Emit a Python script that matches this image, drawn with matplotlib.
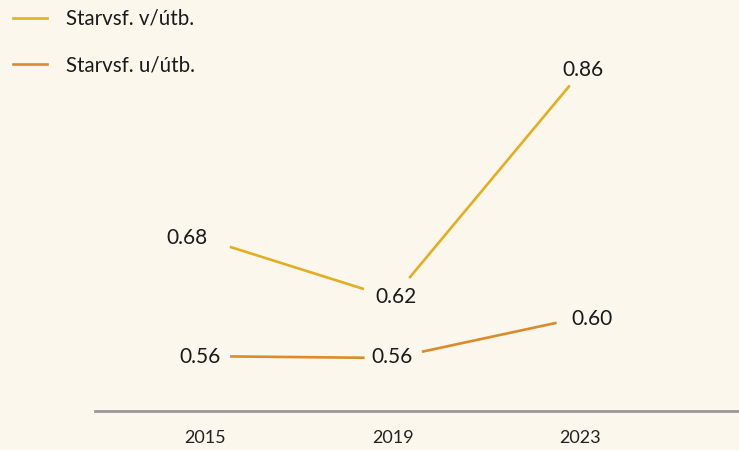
import numpy as np
import matplotlib
matplotlib.use("Agg")
import matplotlib.pyplot as plt
from matplotlib.lines import Line2D

# ---- data ----
years = [2015, 2019, 2023]
series_names = ["Starvsf. v/útb.", "Starvsf. u/útb."]
values_v = [0.684, 0.621, 0.861]
values_u = [0.559, 0.557, 0.600]
tick_labels = ["2015", "2019", "2023"]

# ---- style ----
BG = "#FCF7EC"
colors = ["#E4AE22", "#DD8A2B"]
font = "Lato"
# pixel gaps at segment ends (start, end) per segment
gaps = [[(26, 30), (26, 16)], [(25, 28), (30, 24)]]
# label offsets in pixels
label_offsets = [[(-18, 1), (3, 1), (3, 3)], [(-5, -1), (-1, 1), (12, -1)]]

W, H = 739, 450
fig = plt.figure(figsize=(W / 100, H / 100), dpi=100, facecolor=BG)
ax = fig.add_axes([95 / W, (H - 411) / H, 1 - 95 / W, 411 / H])
ax.set_facecolor(BG)
ax.set_xlim(2012.653, 2026.39)
ax.set_ylim(0.5005, 0.939)

for s in ["top", "right", "left"]:
    ax.spines[s].set_visible(False)
ax.spines["bottom"].set_color("#999999")
ax.spines["bottom"].set_linewidth(2.0)
ax.set_yticks([])
ax.set_xticks(years)
ax.set_xticklabels(tick_labels, fontfamily=font, fontsize=13, color="#222222")
ax.tick_params(axis="x", length=0, pad=14)

inv = ax.transData.inverted()
for k, vals in enumerate([values_v, values_u]):
    pts = ax.transData.transform(np.column_stack([years, vals]))
    for i in range(len(pts) - 1):
        p0, p1 = pts[i], pts[i + 1]
        d = p1 - p0
        u = d / np.hypot(*d)
        g0, g1 = gaps[k][i]
        a = inv.transform(p0 + u * g0)
        b = inv.transform(p1 - u * g1)
        ax.plot([a[0], b[0]], [a[1], b[1]], color=colors[k], lw=1.9,
                solid_capstyle="butt")
    for i, (x, y) in enumerate(zip(years, vals)):
        dx, dy = label_offsets[k][i]
        ax.annotate(f"{y:.2f}", (x, y), xytext=(dx, dy), textcoords="offset pixels",
                    ha="center", va="center", fontfamily=font, fontsize=15,
                    color="#1a1a1a")

handles = [Line2D([], [], color=c, lw=1.9) for c in colors]
fig.legend(handles, series_names, loc="upper left",
           bbox_to_anchor=(4 / W, 1 + 0.5 / H),
           frameon=False, prop={"family": font, "size": 14.8}, handlelength=1.65,
           handletextpad=0.9, labelspacing=1.28, borderaxespad=0.1,
           borderpad=0.35, labelcolor="#1a1a1a")

fig.savefig("out.png", dpi=100, facecolor=BG)
